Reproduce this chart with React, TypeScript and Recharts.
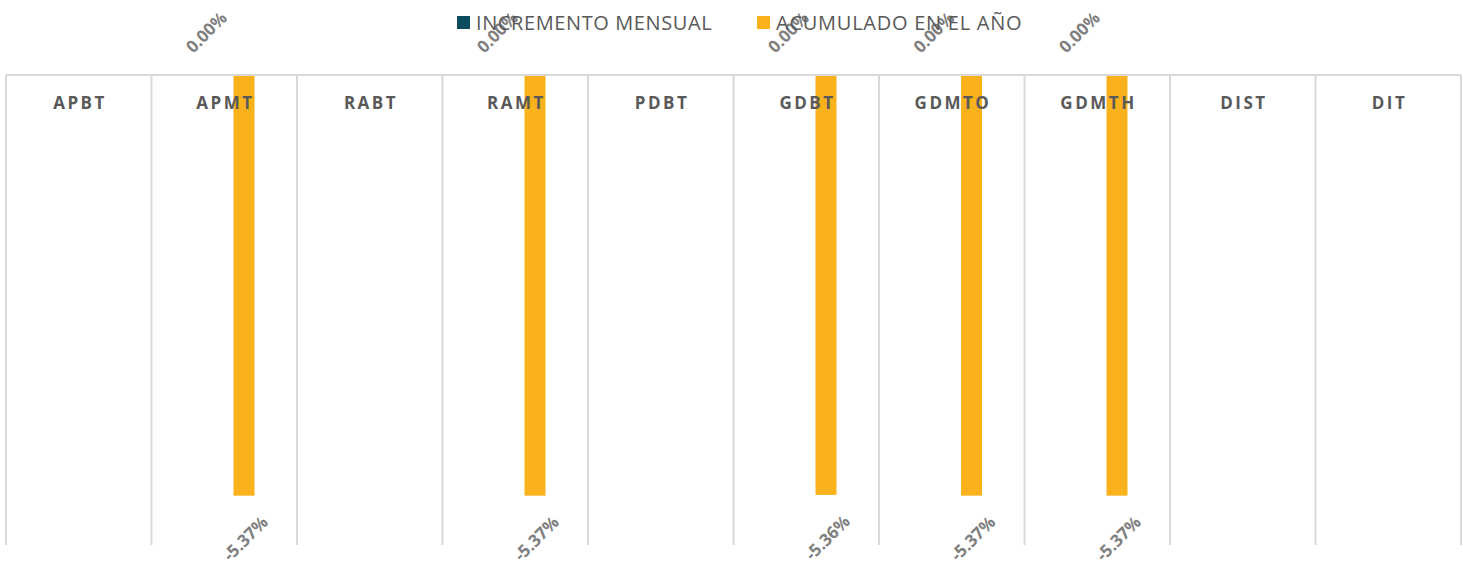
import React from 'react';
import { BarChart, Bar, XAxis, YAxis, CartesianGrid, LabelList } from 'recharts';

const categories = ['APBT', 'APMT', 'RABT', 'RAMT', 'PDBT', 'GDBT', 'GDMTO', 'GDMTH', 'DIST', 'DIT'];
const incrementoMensual: (number | null)[] = [null, 0, null, 0, null, 0, 0, 0, null, null];
const acumuladoAnio: (number | null)[] = [null, -5.37, null, -5.37, null, -5.36, -5.37, -5.37, null, null];
const seriesNames = ['INCREMENTO MENSUAL', 'ACUMULADO EN EL AÑO'];
const seriesColors = ['#0D4B5E', '#F9B21B'];
const yDomain: [number, number] = [-6, 0];

const data = categories.map((cat, i) => ({
  cat,
  inc: incrementoMensual[i],
  acc: acumuladoAnio[i],
}));

const FONT = '"Open Sans", "DejaVu Sans", sans-serif';
const GRID = '#D9D9D9';

const CatTick = (props: any) => {
  const { x, y, payload } = props;
  return (
    <text
      x={Number(x) + 1.25}
      y={Number(y) + 34}
      textAnchor="middle"
      fontFamily={FONT}
      fontSize={17}
      fontWeight={700}
      letterSpacing={2.5}
      fill="#595959"
    >
      {payload.value}
    </text>
  );
};

const renderValueLabel = (props: any) => {
  const { value } = props;
  if (value === null || value === undefined || value === '') return null;
  const vb = props.viewBox && props.viewBox.width !== undefined ? props.viewBox : props;
  const x = Number(vb.x);
  const y = Number(vb.y);
  const w = Number(vb.width);
  const h = Number(vb.height);
  const top = Math.min(y, y + h);
  const bottom = Math.max(y, y + h);
  const v = Number(value);
  const cx = x + w / 2 + 1;
  const cy = v < 0 ? bottom + 42.5 : top - 43;
  return (
    <text
      x={cx}
      y={cy}
      transform={`rotate(-45 ${cx} ${cy})`}
      textAnchor="middle"
      dominantBaseline="central"
      fontFamily={FONT}
      fontSize={17}
      fontWeight={700}
      fill="#7F7F7F"
    >
      {`${v.toFixed(2)}%`}
    </text>
  );
};

const barShape = (p: any) => {
  const y = Math.min(Number(p.y), Number(p.y) + Number(p.height));
  const h = Math.abs(Number(p.height));
  return (
    <g>
      <rect x={p.x} y={y} width={p.width} height={h} fill={p.fill} />
    </g>
  );
};

const legendLefts = [457, 757];

export default function App() {
  return (
    <div
      style={{
        position: 'absolute',
        left: 0,
        top: 0,
        width: 1463,
        height: 567,
        background: '#fff',
        fontFamily: FONT,
      }}
    >
      <BarChart
        width={1463}
        height={567}
        data={data}
        margin={{ top: 74, right: 2, bottom: 22, left: 6 }}
        barSize={21}
        barGap={18}
      >
        <CartesianGrid
          horizontal={false}
          vertical
          stroke={GRID}
          strokeWidth={2}
          verticalCoordinatesGenerator={({ offset }: any) =>
            Array.from({ length: categories.length + 1 }, (_, i) => offset.left + (offset.width * i) / categories.length)
          }
        />
        <XAxis
          dataKey="cat"
          orientation="top"
          height={1}
          interval={0}
          tickLine={false}
          tickSize={0}
          tickMargin={0}
          axisLine={{ stroke: GRID, strokeWidth: 2 }}
          tick={<CatTick />}
        />
        <YAxis type="number" domain={yDomain} hide />
        <Bar dataKey="inc" name={seriesNames[0]} fill={seriesColors[0]} shape={barShape} isAnimationActive={false}>
          <LabelList dataKey="inc" content={renderValueLabel} />
        </Bar>
        <Bar dataKey="acc" name={seriesNames[1]} fill={seriesColors[1]} shape={barShape} isAnimationActive={false}>
          <LabelList dataKey="acc" content={renderValueLabel} />
        </Bar>
      </BarChart>
      {seriesNames.map((name, i) => (
        <div
          key={name}
          style={{
            position: 'absolute',
            left: legendLefts[i],
            top: 13,
            height: 20,
            display: 'flex',
            alignItems: 'flex-start',
            whiteSpace: 'nowrap',
            pointerEvents: 'none',
          }}
        >
          <div style={{ width: 13, height: 13, background: seriesColors[i], marginTop: 3, marginRight: 6 }} />
          <span
            style={{
              fontSize: 20,
              lineHeight: '20px',
              letterSpacing: i === 0 ? 0.6 : 0.75,
              color: '#595959',
              fontFamily: FONT,
            }}
          >
            {name}
          </span>
        </div>
      ))}
    </div>
  );
}
